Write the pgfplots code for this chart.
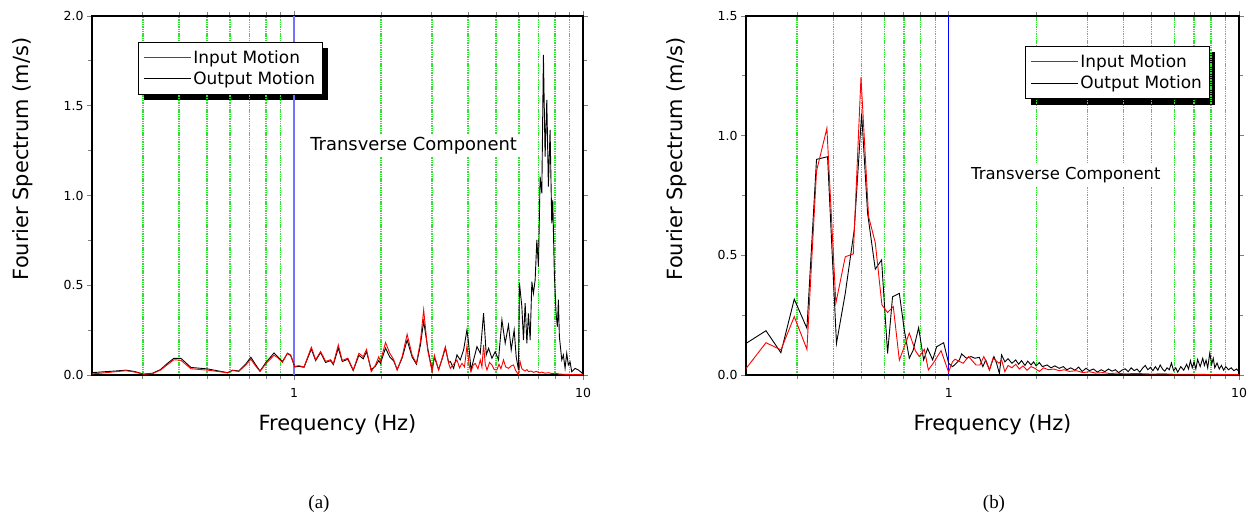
\documentclass[border=0pt]{standalone}
\usepackage{pgfplots}
\pgfplotsset{compat=1.18}
\usepackage{fontspec}
\setmainfont{DejaVu Sans}
\newfontfamily\seriffont{Liberation Serif}
\usetikzlibrary{backgrounds}
\definecolor{gridgreen}{RGB}{40,230,40}
\definecolor{lblue}{RGB}{115,115,255}

\pgfplotsset{
  legend image code/.code={\path (0bp,0bp) -- (47bp,0bp); \draw[#1, line width=0.9bp] (3bp,0bp) -- (43bp,0bp);},
}

\begin{document}
\begin{tikzpicture}[x=1bp,y=1bp]
\useasboundingbox (0,0) rectangle (1252,-515);

% ---------------- (a) ----------------
\begin{axis}[
  scale only axis,
  at={(92bp,-375bp)}, anchor=south west,
  width=491bp, height=359bp,
  xmode=log, xmin=0.2, xmax=10,
  xtick={1,10}, xticklabels={1,10},
  minor xtick={0.3,0.4,0.5,0.6,0.7,0.8,0.9,2,3,4,5,6,7,8,9},
  xminorgrids=true, xmajorgrids=false,
  minor x grid style={draw=gridgreen, dash pattern=on 1.4bp off 0.9bp, line width=1.3bp},
  ymin=0, ymax=2, ytick={0,0.5,1,1.5,2},
  minor y tick num=1,
  yticklabel style={/pgf/number format/fixed, /pgf/number format/fixed zerofill, /pgf/number format/precision=1, /pgf/number format/assume math mode=true},
  tick label style={font=\fontsize{12.5}{15}\selectfont},
  xticklabel style={yshift=-5bp},
  tick align=outside,
  major tick length=5bp, minor tick length=4bp,
  tick style={line width=0.9bp},
  axis line style={line width=1.3bp},
  xlabel={Frequency (Hz)},
  ylabel={Fourier Spectrum (m/s)},
  label style={font=\fontsize{21}{25}\selectfont},
  xlabel style={at={(axis description cs:0.5,-0.139)}, anchor=center},
  ylabel style={at={(axis description cs:-0.142,0.602)}, anchor=center},
  reverse legend,
  legend cell align=left,
  legend style={name=legA, at={(axis description cs:0.094,0.928)}, anchor=north west,
    draw=black, line width=0.7bp, fill=white,
    font=\fontsize{17}{20}\selectfont, inner xsep=5bp, inner ysep=6bp, row sep=3bp},
]
\draw[lblue, line width=1.5bp] (axis cs:1,0) -- (axis cs:1,2);
\addplot[black, line width=0.9bp] coordinates {
(0.200,0.013)(0.220,0.018)(0.240,0.022)(0.262,0.027)(0.280,0.020)(0.302,0.005)
(0.324,0.010)(0.345,0.030)(0.365,0.065)(0.384,0.093)(0.406,0.093)(0.440,0.042)
(0.502,0.034)(0.550,0.022)(0.589,0.013)(0.613,0.027)(0.644,0.022)(0.680,0.060)
(0.709,0.099)(0.735,0.060)(0.763,0.022)(0.798,0.068)(0.853,0.123)(0.880,0.100)
(0.912,0.075)(0.949,0.120)(0.974,0.108)(1.006,0.045)(1.040,0.048)(1.083,0.043)
(1.148,0.145)(1.188,0.080)(1.236,0.125)(1.286,0.070)(1.339,0.080)(1.368,0.058)
(1.423,0.150)(1.469,0.075)(1.536,0.088)(1.603,0.025)(1.677,0.110)(1.736,0.090)
(1.782,0.130)(1.850,0.030)(1.914,0.050)(1.965,0.080)(1.992,0.065)(2.073,0.150)
(2.145,0.100)(2.214,0.078)(2.275,0.030)(2.367,0.095)(2.463,0.195)(2.563,0.100)
(2.652,0.060)(2.737,0.165)(2.810,0.300)(2.901,0.150)(3.005,0.025)(3.060,0.100)
(3.166,0.030)(3.250,0.085)(3.340,0.150)(3.428,0.070)(3.475,0.075)(3.566,0.037)
(3.664,0.112)(3.762,0.084)(3.863,0.140)(3.968,0.251)(4.019,0.177)(4.097,0.028)
(4.182,0.084)(4.297,0.158)(4.411,0.121)(4.528,0.344)(4.627,0.112)(4.712,0.149)
(4.841,0.093)(4.969,0.130)(5.101,0.084)(5.241,0.307)(5.380,0.177)(5.523,0.279)
(5.644,0.140)(5.779,0.251)(5.872,0.102)(5.981,0.028)(6.027,0.512)(6.144,0.380)
(6.223,0.195)(6.308,0.400)(6.394,0.176)(6.475,0.343)(6.564,0.195)(6.653,0.520)
(6.737,0.455)(6.830,0.529)(6.923,0.752)(7.011,0.604)(7.107,1.105)(7.203,1.012)
(7.295,1.783)(7.394,1.216)(7.495,1.532)(7.590,1.049)(7.694,1.365)(7.797,0.845)
(7.860,0.975)(7.960,0.566)(8.069,0.343)(8.153,0.269)(8.220,0.420)(8.284,0.214)
(8.444,0.084)(8.551,0.111)(8.669,0.037)(8.785,0.121)(8.897,0.056)(9.019,0.074)
(9.141,0.018)(9.385,0.037)(9.634,0.028)(9.897,0.013)(10.0,0.002)
};
\addlegendentry{Output Motion}
\addplot[red, line width=0.9bp] coordinates {
(0.200,0.006)(0.220,0.012)(0.240,0.018)(0.262,0.024)(0.280,0.017)(0.302,0.004)
(0.324,0.008)(0.345,0.027)(0.365,0.058)(0.384,0.085)(0.406,0.082)(0.440,0.035)
(0.502,0.027)(0.550,0.019)(0.589,0.012)(0.613,0.025)(0.644,0.020)(0.680,0.055)
(0.709,0.088)(0.735,0.052)(0.763,0.020)(0.798,0.062)(0.853,0.110)(0.880,0.095)
(0.912,0.070)(0.949,0.122)(0.974,0.112)(1.006,0.048)(1.040,0.052)(1.083,0.045)
(1.148,0.155)(1.188,0.085)(1.236,0.131)(1.286,0.076)(1.339,0.085)(1.368,0.063)
(1.423,0.168)(1.469,0.081)(1.536,0.094)(1.603,0.028)(1.677,0.121)(1.736,0.102)
(1.782,0.143)(1.850,0.019)(1.914,0.056)(1.965,0.102)(1.992,0.076)(2.073,0.181)
(2.145,0.121)(2.214,0.085)(2.275,0.028)(2.367,0.102)(2.463,0.227)(2.563,0.110)
(2.652,0.065)(2.737,0.186)(2.810,0.363)(2.901,0.139)(3.005,0.019)(3.060,0.110)
(3.166,0.028)(3.250,0.090)(3.340,0.158)(3.428,0.065)(3.475,0.037)(3.566,0.060)
(3.664,0.084)(3.740,0.040)(3.814,0.065)(3.890,0.045)(3.968,0.162)(4.040,0.050)
(4.097,0.019)(4.170,0.055)(4.239,0.065)(4.330,0.035)(4.411,0.084)(4.470,0.045)
(4.528,0.167)(4.590,0.060)(4.653,0.028)(4.750,0.070)(4.841,0.056)(4.930,0.030)
(5.036,0.028)(5.120,0.060)(5.200,0.035)(5.308,0.084)(5.400,0.045)(5.523,0.037)
(5.630,0.050)(5.747,0.056)(5.850,0.025)(5.981,0.003)(6.060,0.074)(6.144,0.035)
(6.223,0.028)(6.300,0.022)(6.400,0.030)(6.475,0.019)(6.600,0.022)(6.750,0.015)
(6.900,0.020)(7.050,0.012)(7.200,0.016)(7.400,0.010)(7.600,0.013)(7.800,0.008)
(8.000,0.010)(8.300,0.005)(8.600,0.004)(9.000,0.003)(9.500,0.002)(10.0,0.002)
};
\addlegendentry{Input Motion}
\node[fill=white, inner sep=3bp, anchor=base, font=\fontsize{18}{21}\selectfont]
  at (axis cs:2.594,1.253) {Transverse Component};
\end{axis}
\begin{pgfonlayer}{background}
\fill[black] ([xshift=6bp,yshift=-6bp]legA.south west) rectangle ([xshift=6bp,yshift=-6bp]legA.north east);
\end{pgfonlayer}

% ---------------- (b) ----------------
\begin{axis}[
  scale only axis,
  at={(746bp,-375bp)}, anchor=south west,
  width=493bp, height=359bp,
  xmode=log, xmin=0.2, xmax=10,
  xtick={1,10}, xticklabels={1,10},
  minor xtick={0.3,0.4,0.5,0.6,0.7,0.8,0.9,2,3,4,5,6,7,8,9},
  xminorgrids=true, xmajorgrids=false,
  minor x grid style={draw=gridgreen, dash pattern=on 1.4bp off 0.9bp, line width=1.3bp},
  ymin=0, ymax=1.5, ytick={0,0.5,1,1.5},
  minor y tick num=1,
  yticklabel style={/pgf/number format/fixed, /pgf/number format/fixed zerofill, /pgf/number format/precision=1, /pgf/number format/assume math mode=true},
  tick label style={font=\fontsize{12.5}{15}\selectfont},
  xticklabel style={yshift=-5bp},
  tick align=outside,
  major tick length=5bp, minor tick length=4bp,
  tick style={line width=0.9bp},
  axis line style={line width=1.3bp},
  xlabel={Frequency (Hz)},
  ylabel={Fourier Spectrum (m/s)},
  label style={font=\fontsize{21}{25}\selectfont},
  xlabel style={at={(axis description cs:0.5,-0.139)}, anchor=center},
  ylabel style={at={(axis description cs:-0.14,0.602)}, anchor=center},
  reverse legend,
  legend cell align=left,
  legend style={name=legB, at={(axis description cs:0.566,0.916)}, anchor=north west,
    draw=black, line width=0.7bp, fill=white,
    font=\fontsize{17}{20}\selectfont, inner xsep=5bp, inner ysep=6bp, row sep=3bp},
]
\draw[blue, line width=0.9bp] (axis cs:1,0) -- (axis cs:1,1.5);
\addplot[black, line width=0.9bp] coordinates {
(0.200,0.132)(0.2343,0.185)(0.2638,0.093)(0.2933,0.317)(0.3243,0.195)(0.350,0.901)
(0.382,0.912)(0.410,0.132)(0.4396,0.341)(0.472,0.606)(0.5005,1.093)(0.5248,0.676)
(0.5578,0.442)(0.5864,0.481)(0.6151,0.090)(0.6398,0.327)(0.6752,0.341)(0.7023,0.188)
(0.7307,0.070)(0.7543,0.105)(0.787,0.198)(0.8186,0.063)(0.845,0.111)(0.8793,0.063)
(0.9077,0.118)(0.9595,0.135)(0.9984,0.049)(1.03,0.035)(1.053,0.045)(1.087,0.063)
(1.107,0.088)(1.15,0.070)(1.193,0.077)(1.23,0.070)(1.274,0.074)(1.31,0.035)
(1.34,0.063)(1.38,0.021)(1.43,0.077)(1.46,0.050)(1.493,0.007)(1.52,0.084)
(1.56,0.055)(1.60,0.068)(1.65,0.049)(1.70,0.063)(1.74,0.045)(1.78,0.060)
(1.83,0.040)(1.87,0.058)(1.92,0.042)(1.96,0.055)(2.00,0.038)(2.05,0.052)
(2.10,0.035)(2.18,0.042)(2.25,0.030)(2.32,0.038)(2.40,0.028)(2.48,0.035)
(2.55,0.022)(2.63,0.030)(2.72,0.020)(2.80,0.033)(2.88,0.015)(2.97,0.028)
(3.05,0.018)(3.15,0.025)(3.25,0.012)(3.35,0.022)(3.45,0.014)(3.55,0.025)
(3.65,0.016)(3.75,0.022)(3.85,0.010)(3.95,0.020)(4.05,0.026)(4.15,0.014)
(4.25,0.030)(4.35,0.018)(4.45,0.025)(4.55,0.012)(4.65,0.028)(4.75,0.040)
(4.85,0.022)(4.95,0.032)(5.05,0.018)(5.15,0.035)(5.25,0.020)(5.35,0.042)
(5.45,0.025)(5.55,0.016)(5.65,0.030)(5.75,0.022)(5.85,0.050)(5.95,0.018)
(6.05,0.030)(6.15,0.012)(6.30,0.035)(6.45,0.020)(6.60,0.045)(6.70,0.025)
(6.80,0.060)(6.90,0.030)(7.00,0.055)(7.10,0.025)(7.20,0.065)(7.35,0.035)
(7.50,0.070)(7.60,0.040)(7.70,0.062)(7.80,0.030)(7.93,0.091)(8.05,0.045)
(8.15,0.070)(8.25,0.030)(8.40,0.050)(8.55,0.025)(8.70,0.040)(8.85,0.020)
(9.00,0.035)(9.20,0.022)(9.40,0.030)(9.60,0.018)(9.80,0.025)(10.0,0.014)
};
\addlegendentry{Output Motion}
\addplot[red, line width=0.9bp] coordinates {
(0.200,0.027)(0.2343,0.135)(0.2638,0.105)(0.2933,0.244)(0.3243,0.107)(0.350,0.852)
(0.380,1.031)(0.408,0.300)(0.4396,0.494)(0.4686,0.506)(0.498,1.244)(0.529,0.662)
(0.5578,0.553)(0.588,0.293)(0.6151,0.261)(0.6435,0.286)(0.6752,0.062)(0.7307,0.175)
(0.7665,0.102)(0.791,0.077)(0.8233,0.107)(0.850,0.021)(0.891,0.056)(0.940,0.102)
(0.998,0.012)(1.03,0.056)(1.05,0.066)(1.12,0.049)(1.17,0.077)(1.24,0.042)
(1.28,0.042)(1.32,0.077)(1.38,0.021)(1.42,0.070)(1.49,0.049)(1.52,0.063)
(1.56,0.014)(1.60,0.040)(1.65,0.030)(1.70,0.045)(1.75,0.025)(1.80,0.038)
(1.86,0.020)(1.92,0.035)(1.98,0.028)(2.05,0.015)(2.12,0.030)(2.20,0.022)
(2.30,0.025)(2.40,0.018)(2.50,0.022)(2.60,0.015)(2.75,0.018)(2.90,0.010)
(3.05,0.014)(3.20,0.008)(3.40,0.010)(3.60,0.006)(3.80,0.008)(4.0,0.005)
(4.5,0.006)(5.0,0.004)(5.5,0.005)(6.0,0.003)(7.0,0.003)(8.0,0.002)
(9.0,0.002)(10.0,0.002)
};
\addlegendentry{Input Motion}
\node[fill=white, inner sep=3bp, anchor=base, font=\fontsize{16.5}{20}\selectfont]
  at (axis cs:2.53,0.818) {Transverse Component};
\end{axis}
\begin{pgfonlayer}{background}
\fill[black] ([xshift=6bp,yshift=-6bp]legB.south west) rectangle ([xshift=6bp,yshift=-6bp]legB.north east);
\end{pgfonlayer}

\node[font=\seriffont\fontsize{19}{22}\selectfont] at (319,-504) {(a)};
\node[font=\seriffont\fontsize{19}{22}\selectfont] at (994,-504) {(b)};
\end{tikzpicture}
\end{document}
